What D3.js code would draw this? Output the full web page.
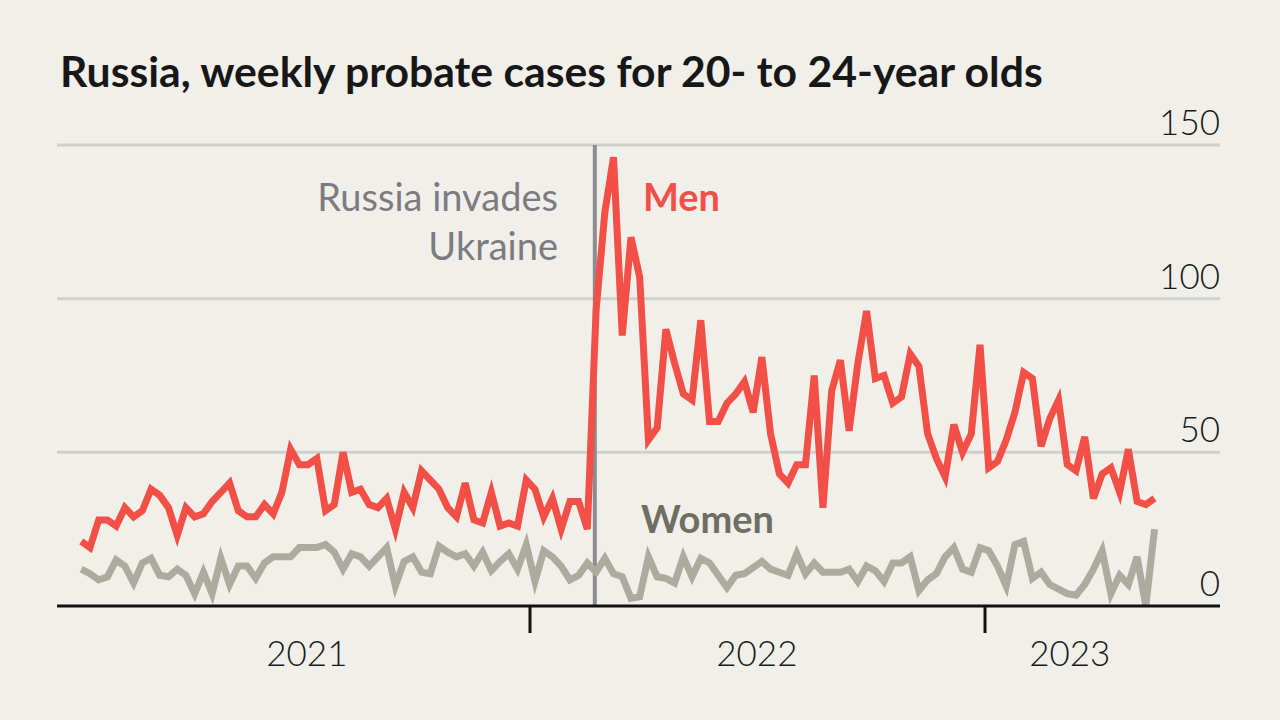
<!DOCTYPE html>
<html>
<head>
<meta charset="utf-8">
<script src="https://cdn.jsdelivr.net/npm/d3@7"></script>
<style>
  html, body { margin: 0; padding: 0; background: #f1efea; }
  svg { display: block; }
  text { font-family: Lato, "Noto Sans", sans-serif; }
</style>
</head>
<body>
<svg id="chart" width="1280" height="720"></svg>
<script>
// weekly probate cases, 20- to 24-year olds, first week starts 6 Jan 2021
const firstWeek = new Date(Date.UTC(2021, 0, 6));

const men = [
  21, 19, 28, 28, 26, 32, 29, 31, 38, 36,
  32, 23, 32, 29, 30, 34, 37, 40, 31, 29,
  29, 33, 30, 37, 51, 46, 46, 48, 31, 33,
  50, 37, 38, 33, 32, 35, 25, 37, 32, 44,
  41, 38, 32, 29, 40, 28, 27, 37, 26, 27,
  26, 41, 38, 29, 35, 25, 34, 34, 25, 96,
  128, 146, 88, 120, 107, 54, 58, 90, 79, 69,
  67, 93, 60, 60, 66, 69, 73, 63, 81, 56,
  43, 40, 46, 46, 75, 32, 70, 80, 57, 79,
  96, 74, 75, 66, 68, 82, 78, 56, 48, 42,
  59, 50, 56, 85, 45, 47, 54, 63, 76, 74,
  52, 61, 67, 46, 44, 55, 35, 43, 45, 37,
  51, 34, 33, 35
];

const women = [
  12, 10.5, 8.5, 9.5, 15, 13, 7.5, 14, 15.5, 10,
  9.5, 12, 10, 4, 11, 4, 15.5, 7, 13, 13,
  9, 14, 16, 16, 16, 19, 19, 19, 20, 17.5,
  12, 17, 16, 13, 16, 19, 6.5, 14.5, 16, 11,
  10.5, 19.5, 17.5, 16, 17, 13, 17.5, 11.5, 14.5, 17,
  12, 20, 8, 18, 16, 13, 8.5, 10, 14, 11,
  15.5, 10.5, 9.5, 2.5, 3, 16, 9.5, 9, 7.5, 16,
  9.5, 15.5, 14, 10, 6, 10, 10.5, 12.5, 14.5, 12,
  11, 10, 17, 10.5, 14, 11, 11, 11, 12, 8,
  13, 11.5, 8, 14, 14, 16, 5, 8.5, 10.5, 16,
  19, 12, 11, 19, 18, 13, 6.5, 20, 21, 9,
  11, 7, 5.5, 4, 3.5, 7, 12, 18, 4, 10,
  7, 16, 0, 25
];

const yTicks = [0, 50, 100, 150];
const yearTicks = [new Date(Date.UTC(2022, 0, 1)), new Date(Date.UTC(2023, 0, 1))];
const yearLabels = ["2021", "2022", "2023"];
const invasion = new Date(Date.UTC(2022, 1, 22));

const weeks = men.map((d, i) => d3.utcDay.offset(firstWeek, i * 7));

const svg = d3.select("#chart");
const left = 57, right = 1220;

const x = d3.scaleUtc()
  .domain(yearTicks)
  .range([530, 985]);

const y = d3.scaleLinear()
  .domain([0, 150])
  .range([606, 145]);

// title
svg.append("text")
  .attr("class", "title")
  .attr("x", 60)
  .attr("y", 87)
  .attr("font-size", 36)
  .attr("font-weight", 700)
  .attr("fill", "#171717")
  .text("Russia, weekly probate cases for 20- to 24-year olds");

// fit title width to the original
const title = svg.select(".title");
const tw = title.node().getComputedTextLength();
title.attr("font-size", 36 * 983 / tw);

// gridlines + y labels
const grid = svg.append("g");
grid.selectAll("line")
  .data(yTicks.filter(d => d > 0))
  .join("line")
  .attr("x1", left).attr("x2", right)
  .attr("y1", d => y(d)).attr("y2", d => y(d))
  .attr("stroke", "#cfcfcd")
  .attr("stroke-width", 3);

grid.selectAll("text")
  .data(yTicks)
  .join("text")
  .attr("x", right)
  .attr("y", d => y(d) - 10)
  .attr("text-anchor", "end")
  .attr("font-size", 35)
  .attr("font-weight", 300)
  .attr("fill", "#1a1a1a")
  .text(d => d);

// invasion marker
svg.append("line")
  .attr("x1", x(invasion)).attr("x2", x(invasion))
  .attr("y1", y(150)).attr("y2", y(0))
  .attr("stroke", "#8c8c91")
  .attr("stroke-width", 4);

const note = svg.append("text")
  .attr("text-anchor", "end")
  .attr("font-size", 38)
  .attr("fill", "#7b7b80");
note.append("tspan").attr("x", 558).attr("y", 211).text("Russia invades");
note.append("tspan").attr("x", 558).attr("y", 260).text("Ukraine");

// lines
const line = d3.line()
  .x((d, i) => x(weeks[i]))
  .y(d => y(d));

svg.append("path")
  .datum(women)
  .attr("fill", "none")
  .attr("stroke", "#adab9e")
  .attr("stroke-width", 7)
  .attr("d", line);

svg.append("path")
  .datum(men)
  .attr("fill", "none")
  .attr("stroke", "#f24f47")
  .attr("stroke-width", 7)
  .attr("d", line);

// series labels
svg.append("text")
  .attr("x", 643).attr("y", 211)
  .attr("font-size", 38)
  .attr("font-weight", 700)
  .attr("fill", "#f24f47")
  .text("Men");

svg.append("text")
  .attr("x", 641).attr("y", 533)
  .attr("font-size", 38)
  .attr("font-weight", 700)
  .attr("fill", "#6f6e63")
  .text("Women");

// x axis
svg.append("line")
  .attr("x1", left).attr("x2", right)
  .attr("y1", y(0)).attr("y2", y(0))
  .attr("stroke", "#111")
  .attr("stroke-width", 3);

svg.append("g")
  .selectAll("line")
  .data(yearTicks)
  .join("line")
  .attr("x1", d => x(d)).attr("x2", d => x(d))
  .attr("y1", y(0)).attr("y2", 633)
  .attr("stroke", "#111")
  .attr("stroke-width", 3);

const lastWeek = weeks[weeks.length - 1];
const labelPos = [
  x(new Date(Date.UTC(2021, 6, 6))),
  x(new Date(Date.UTC(2022, 6, 2))),
  (x(yearTicks[1]) + x(lastWeek)) / 2
];

svg.append("g")
  .selectAll("text")
  .data(yearLabels)
  .join("text")
  .attr("x", (d, i) => labelPos[i])
  .attr("y", 666)
  .attr("text-anchor", "middle")
  .attr("font-size", 35)
  .attr("font-weight", 300)
  .attr("fill", "#1a1a1a")
  .text(d => d);
</script>
</body>
</html>
